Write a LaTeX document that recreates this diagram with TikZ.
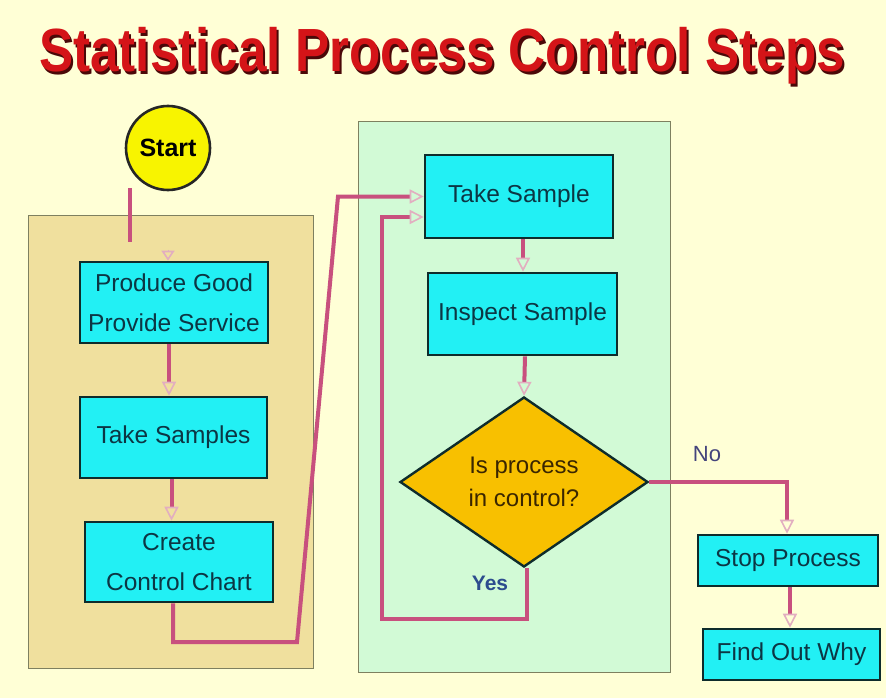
\documentclass[tikz,border=0pt]{standalone}
\usepackage{fontspec}
\setmainfont{Liberation Sans}
\usetikzlibrary{arrows.meta,shapes.geometric,calc}

\definecolor{bgcream}{HTML}{FFFFD6}
\definecolor{tanpanel}{HTML}{F0E09E}
\definecolor{mintpanel}{HTML}{D2FAD6}
\definecolor{panelrule}{HTML}{7E8060}
\definecolor{boxcyan}{HTML}{22F0F4}
\definecolor{boxrule}{HTML}{0E2C2C}
\definecolor{boxtext}{HTML}{0C3644}
\definecolor{decision}{HTML}{F8C000}
\definecolor{decisiontext}{HTML}{3A2600}
\definecolor{flowpink}{HTML}{C8507E}
\definecolor{tippink}{HTML}{E2AEC0}
\definecolor{titlered}{HTML}{D41418}
\definecolor{titleshade}{HTML}{4A0808}
\definecolor{yesblue}{HTML}{2C4C8E}
\definecolor{noblue}{HTML}{44447C}
\definecolor{startyellow}{HTML}{F8F400}

% title text with a dark drop shade, set as one box
\newcommand{\shadedtitle}[1]{%
  \rlap{\kern2.5pt\raisebox{-2.5pt}{\color{titleshade}#1}}{\color{titlered}#1}}

\tikzset{
  panel/.style={draw=panelrule, line width=1pt},
  stepbox/.style={rectangle, draw=boxrule, line width=2.6pt, fill=boxcyan,
    text=boxtext, align=center, inner sep=0pt,
    font=\fontsize{24.5}{40}\selectfont},
  decisionbox/.style={diamond, draw=boxrule, line width=2.4pt, fill=decision,
    text=decisiontext, align=center, inner sep=0pt, shape aspect=1.46,
    minimum width=248pt, minimum height=170pt,
    font=\fontsize{24}{33}\selectfont},
  startdisk/.style={circle, draw=black!85, line width=2.6pt, fill=startyellow,
    minimum size=84pt, inner sep=0pt,
    font=\fontsize{25}{30}\selectfont\bfseries},
  flow/.style={draw=flowpink, line width=4pt, line join=miter,
    -{Triangle[open, length=14pt, width=14pt, color=tippink, line width=1.6pt]}},
  plainflow/.style={draw=flowpink, line width=4pt},
  tiponly/.style={draw=tippink, line width=0.1pt,
    -{Triangle[open, length=10pt, width=13pt, color=tippink, line width=1.6pt]}},
}

\begin{document}
\begin{tikzpicture}[x=1pt, y=-1pt]
  % canvas
  \fill[bgcream] (0,0) rectangle (886,698);
  \useasboundingbox (0,0) rectangle (886,698);

  % title
  \node[anchor=base, font=\fontsize{61}{70}\selectfont\bfseries]
    (title) at (442,72) {\scalebox{0.84}[1]{\shadedtitle{Statistical Process Control Steps}}};

  % grouping panels
  \filldraw[panel, fill=tanpanel] (28,215) rectangle (313,668);
  \filldraw[panel, fill=mintpanel] (358,122) rectangle (670,672);

  % start
  \node[startdisk] (start) at (168,148) {Start};

  % left column
  \node[stepbox, minimum width=188pt, minimum height=81pt] (produce) at (174,302.5)
    {Produce Good\\Provide Service};
  \node[stepbox, minimum width=187pt, minimum height=81pt] (samples) at (173.5,437.5)
    {Take Samples};
  \node[stepbox, minimum width=188pt, minimum height=80pt] (chart) at (179,562)
    {Create\\Control Chart};

  % monitoring loop
  \node[stepbox, minimum width=188pt, minimum height=83pt] (sample) at (519,196.5)
    {Take Sample};
  \node[stepbox, minimum width=189pt, minimum height=82pt] (inspect) at (522.5,314)
    {Inspect Sample};
  \node[decisionbox] (control) at (524,482) {Is process\\in control?};

  % out-of-control branch
  \node[stepbox, minimum width=180pt, minimum height=51pt] (stop) at (788,560.5)
    {Stop Process};
  \node[stepbox, minimum width=177pt, minimum height=51pt] (why) at (791.5,654.5)
    {Find Out Why};

  % start lead-in
  \coordinate (leadtop) at (130,188);
  \coordinate (leadend) at (130,242);
  \draw[plainflow] (leadtop) -- (leadend);
  \draw[tiponly] ([xshift=-6pt, yshift=11pt]produce.north) -- ([xshift=-6pt]produce.north);

  % left column flow
  \draw[flow] ([xshift=-5pt]produce.south) -- ([xshift=-5pt]produce.south |- samples.north);
  \draw[flow] ([xshift=-2pt]samples.south) -- ([xshift=-2pt]samples.south |- chart.north);

  % chart into the monitoring loop
  \coordinate (chartlow) at (173,642);
  \coordinate (chartturn) at (297,642);
  \coordinate (slanttop) at (338,196.5);
  \draw[flow] ([xshift=-6pt]chart.south) -- (chartlow) -- (chartturn) -- (slanttop) -- (sample.west);

  % loop body
  \draw[flow] ([xshift=4pt]sample.south) -- ([xshift=4pt]sample.south |- inspect.north);
  \draw[flow] ([xshift=2.5pt]inspect.south) -- (control.north);

  % in control: back to sampling
  \coordinate (yeslow) at (527,619);
  \coordinate (yescorner) at (382,619);
  \coordinate (yesup) at (382,217);
  \draw[flow] ([xshift=3pt]control.south) -- (yeslow) -- (yescorner) -- (yesup)
    -- ([yshift=-20.5pt]sample.west);
  \node[text=yesblue, font=\fontsize{21}{24}\selectfont\bfseries] (yes) at (490,583) {Yes};

  % not in control
  \draw[flow] (control.east) -| ([xshift=-1pt]stop.north);
  \node[text=noblue, font=\fontsize{22}{24}\selectfont] (no) at (707,454) {No};
  \draw[flow] ([xshift=2pt]stop.south) -- ([xshift=2pt]stop.south |- why.north);
\end{tikzpicture}
\end{document}
